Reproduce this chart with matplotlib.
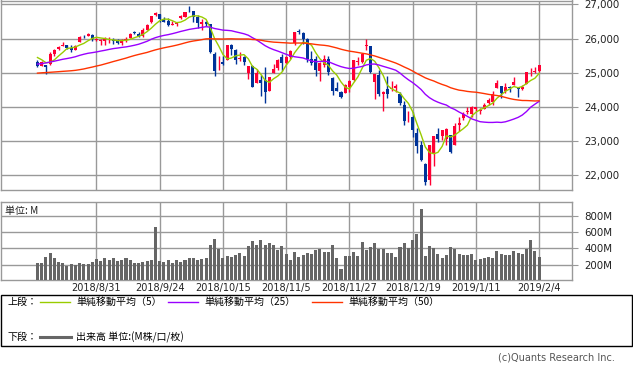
import numpy as np
import pandas as pd
import matplotlib
matplotlib.use('Agg')
import matplotlib.pyplot as plt
from matplotlib.lines import Line2D
from matplotlib.patches import Rectangle

plt.rcParams['font.family'] = ['DejaVu Sans', 'Noto Sans CJK JP']

# 日足データ (2018/8/13 - 2019/2/4)
dates = ['2018/8/13', '2018/8/14', '2018/8/15', '2018/8/16', '2018/8/17', '2018/8/20', '2018/8/21', '2018/8/22', '2018/8/23', '2018/8/24',
         '2018/8/27', '2018/8/28', '2018/8/29', '2018/8/30', '2018/8/31', '2018/9/4', '2018/9/5', '2018/9/6', '2018/9/7', '2018/9/10',
         '2018/9/11', '2018/9/12', '2018/9/13', '2018/9/14', '2018/9/17', '2018/9/18', '2018/9/19', '2018/9/20', '2018/9/21', '2018/9/24',
         '2018/9/25', '2018/9/26', '2018/9/27', '2018/9/28', '2018/10/1', '2018/10/2', '2018/10/3', '2018/10/4', '2018/10/5', '2018/10/8',
         '2018/10/9', '2018/10/10', '2018/10/11', '2018/10/12', '2018/10/15', '2018/10/16', '2018/10/17', '2018/10/18', '2018/10/19', '2018/10/22',
         '2018/10/23', '2018/10/24', '2018/10/25', '2018/10/26', '2018/10/29', '2018/10/30', '2018/10/31', '2018/11/1', '2018/11/2', '2018/11/5',
         '2018/11/6', '2018/11/7', '2018/11/8', '2018/11/9', '2018/11/12', '2018/11/13', '2018/11/14', '2018/11/15', '2018/11/16', '2018/11/19',
         '2018/11/20', '2018/11/21', '2018/11/23', '2018/11/26', '2018/11/27', '2018/11/28', '2018/11/29', '2018/11/30', '2018/12/3', '2018/12/4',
         '2018/12/6', '2018/12/7', '2018/12/10', '2018/12/11', '2018/12/12', '2018/12/13', '2018/12/14', '2018/12/17', '2018/12/18', '2018/12/19',
         '2018/12/20', '2018/12/21', '2018/12/24', '2018/12/26', '2018/12/27', '2018/12/28', '2018/12/31', '2019/1/2', '2019/1/3', '2019/1/4',
         '2019/1/7', '2019/1/8', '2019/1/9', '2019/1/10', '2019/1/11', '2019/1/14', '2019/1/15', '2019/1/16', '2019/1/17', '2019/1/18',
         '2019/1/22', '2019/1/23', '2019/1/24', '2019/1/25', '2019/1/28', '2019/1/29', '2019/1/30', '2019/1/31', '2019/2/1', '2019/2/4']

opens = [25300, 25200, 25220, 25260, 25550, 25690, 25770, 25800, 25720, 25680,
         25900, 26090, 26070, 26100, 25950, 25916, 25930, 25975, 25960, 25950,
         25860, 25960, 26030, 26180, 26140, 26070, 26260, 26480, 26680, 26720,
         26570, 26510, 26410, 26420, 26600, 26640, 26840, 26800, 26630, 26420,
         26490, 26420, 25550, 25330, 25300, 25360, 25800, 25680, 25390, 25460,
         24980, 25190, 24700, 24800, 24800, 24450, 25000, 25130, 25460, 25280,
         25450, 25870, 26210, 26150, 25990, 25410, 25390, 25050, 25240, 25410,
         24850, 24560, 24440, 24390, 24590, 24800, 25300, 25320, 25780, 25780,
         24740, 24920, 24370, 24520, 24520, 24560, 24370, 24050, 23660, 23700,
         23220, 22870, 22320, 21860, 22630, 23210, 23150, 23060, 23180, 22890,
         23470, 23680, 23860, 23790, 23940, 23880, 23930, 24100, 24140, 24540,
         24600, 24450, 24580, 24630, 24580, 24510, 24680, 24980, 25030, 25060]

highs = [25378, 25337, 25230, 25600, 25700, 25790, 25890, 25820, 25800, 25810,
         26070, 26110, 26168, 26125, 26030, 25980, 26050, 26050, 26030, 25980,
         25990, 26040, 26170, 26220, 26200, 26300, 26430, 26670, 26770, 26730,
         26620, 26600, 26520, 26470, 26700, 26790, 26951, 26800, 26690, 26560,
         26530, 26430, 25600, 25490, 25480, 25810, 25830, 25700, 25600, 25480,
         25200, 25240, 25100, 24920, 25170, 24880, 25250, 25390, 25540, 25490,
         25660, 26190, 26280, 26180, 26010, 25650, 25500, 25320, 25530, 25480,
         24860, 24720, 24460, 24660, 24800, 25370, 25460, 25560, 25980, 25780,
         24960, 25090, 24460, 24890, 24760, 24670, 24440, 24180, 23880, 23860,
         23380, 23000, 22340, 22880, 23140, 23380, 23330, 23390, 23180, 23520,
         23690, 23860, 24000, 24010, 24000, 23970, 24100, 24260, 24460, 24780,
         24620, 24700, 24600, 24860, 24580, 24640, 25030, 25140, 25160, 25240]

lows = [25170, 25190, 24965, 25230, 25490, 25670, 25770, 25690, 25610, 25680,
        25900, 26020, 26062, 25940, 25915, 25820, 25800, 25880, 25850, 25830,
        25800, 25900, 26010, 26120, 26040, 26060, 26250, 26470, 26670, 26500,
        26480, 26380, 26410, 26370, 26560, 26640, 26770, 26490, 26300, 26240,
        26370, 25590, 24900, 25090, 25240, 25360, 25530, 25260, 25350, 25240,
        24810, 24580, 24690, 24330, 24120, 24450, 24990, 25080, 25050, 25260,
        25400, 25800, 26130, 25850, 25300, 25240, 24910, 24770, 25160, 24940,
        24340, 24450, 24250, 24390, 24430, 24750, 25220, 25270, 25670, 24980,
        24240, 24320, 23880, 24250, 24460, 24420, 24060, 23460, 23540, 23110,
        22640, 22400, 21712, 21712, 22270, 22980, 23030, 22880, 22640, 22890,
        23300, 23600, 23790, 23700, 23870, 23800, 23930, 24060, 24060, 24540,
        24250, 24390, 24420, 24630, 24300, 24490, 24680, 24900, 24980, 25030]

closes = [25188, 25300, 25162, 25559, 25669, 25759, 25822, 25734, 25657, 25790,
          26050, 26064, 26125, 25987, 25965, 25952, 25975, 25996, 25917, 25857,
          25971, 25999, 26146, 26155, 26062, 26247, 26406, 26657, 26744, 26562,
          26492, 26385, 26440, 26458, 26651, 26774, 26828, 26627, 26447, 26487,
          26431, 25599, 25053, 25340, 25251, 25798, 25707, 25379, 25444, 25317,
          25191, 24583, 24985, 24688, 24443, 24875, 25116, 25381, 25271, 25462,
          25635, 26180, 26191, 25989, 25387, 25286, 25081, 25289, 25413, 25017,
          24466, 24465, 24286, 24640, 24749, 25366, 25339, 25538, 25826, 25027,
          24948, 24389, 24423, 24370, 24527, 24597, 24101, 23593, 23676, 23324,
          22860, 22445, 21792, 22878, 23139, 23062, 23327, 23346, 22686, 23433,
          23531, 23787, 23879, 24002, 23996, 23910, 24066, 24207, 24370, 24706,
          24404, 24576, 24553, 24737, 24528, 24580, 25015, 25000, 25064, 25239]

# 移動平均計算用の過去終値 (2018/6/4 - 2018/8/10)
pre_closes = [24814, 24800, 25146, 25241, 25317, 25322, 25321, 25201, 25175, 25090,
              24987, 24700, 24658, 24462, 24581, 24253, 24283, 24118, 24216, 24271,
              24307, 24175, 24357, 24456, 24777, 24920, 24700, 24925, 25019, 25064,
              25120, 25199, 25065, 25058, 25044, 25242, 25414, 25527, 25451, 25307,
              25415, 25334, 25326, 25463, 25502, 25629, 25584, 25509, 25313]

# 出来高 (M)
volume = [218, 218, 291, 339, 279, 238, 226, 190, 206, 194,
          218, 206, 206, 230, 267, 242, 279, 255, 279, 242,
          255, 279, 255, 218, 218, 230, 242, 255, 654, 242,
          230, 255, 218, 255, 230, 255, 279, 279, 255, 267,
          279, 436, 509, 388, 279, 303, 291, 315, 339, 303,
          424, 485, 436, 497, 436, 461, 436, 376, 424, 329,
          255, 351, 291, 315, 339, 327, 376, 388, 351, 351,
          436, 279, 145, 303, 303, 351, 303, 473, 376, 412,
          461, 388, 388, 339, 339, 291, 412, 461, 400, 497,
          570, 885, 303, 424, 400, 327, 279, 315, 412, 388,
          327, 315, 315, 327, 255, 267, 279, 291, 279, 364,
          327, 315, 315, 364, 339, 327, 388, 497, 364, 291]

label_dates = ['2018/8/31', '2018/9/24', '2018/10/15', '2018/11/5', '2018/11/27',
               '2018/12/19', '2019/1/11', '2019/2/4']
price_ticks = [22000, 23000, 24000, 25000, 26000, 27000]
vol_ticks = [200, 400, 600, 800]

ma_periods = [5, 25, 50]
ma_colors = ['#99cc00', '#9900ff', '#ff3300']

W, H = 633, 372
def fx(x):
    return x / W
def fy(y):
    return 1 - y / H

up_col = '#ff0033'
down_col = '#003399'
grid_col = '#999999'

x = np.arange(len(dates))
o = np.array(opens); h = np.array(highs); l = np.array(lows); c = np.array(closes)
all_close = pd.Series(pre_closes + closes)
n_pre = len(pre_closes)
tick_pos = [dates.index(d) for d in label_dates]

fig = plt.figure(figsize=(W / 100, H / 100), dpi=100)

# ---- 上段: ローソク足 ----
ax = fig.add_axes([fx(0.5), fy(190), fx(571.5), 189.5 / H])
up = c >= o
cols = np.where(up, up_col, down_col)
ax.vlines(x, l, h, colors=cols, lw=1.0, zorder=2)
body_lo = np.minimum(o, c)
body_h = np.maximum(np.abs(c - o), 25)
ax.bar(x, body_h, bottom=body_lo, width=0.72, color=cols, lw=0, zorder=3)

for p, col in zip(ma_periods, ma_colors):
    ma = all_close.rolling(p).mean().values[n_pre:]
    ax.plot(x, ma, color=col, lw=1.0, zorder=4)

ax.set_xlim(-8.77, 126.8)
ax.set_ylim(21560, 27117)
ax.set_xticks(tick_pos)
ax.set_yticks(price_ticks)
ax.set_yticklabels(['{:,}'.format(v) for v in price_ticks])
ax.yaxis.tick_right()
ax.tick_params(axis='y', length=4, width=0.8, color=grid_col, labelcolor='#222222',
               labelsize=7.4, pad=5)
ax.tick_params(axis='x', length=0, labelbottom=False)
ax.grid(True, color=grid_col, lw=1.0)
ax.set_axisbelow(True)
for s in ax.spines.values():
    s.set_color(grid_col)
    s.set_linewidth(1.0)

# ---- 下段: 出来高 ----
axv = fig.add_axes([fx(0.5), fy(280), fx(571.5), 78.3 / H])
axv.bar(x, volume, width=0.72, color='#666666', lw=0, zorder=3)
axv.set_xlim(-8.77, 126.8)
axv.set_ylim(15, 968)
axv.set_yticks(vol_ticks)
axv.set_yticklabels(['{}M'.format(v) for v in vol_ticks])
axv.yaxis.tick_right()
axv.tick_params(axis='y', length=4, width=0.8, color=grid_col, labelcolor='#222222',
                labelsize=7.4, pad=5)
axv.set_xticks(tick_pos)
axv.set_xticklabels(label_dates)
axv.tick_params(axis='x', length=0, labelsize=7, pad=2.5, labelcolor='#222222')
axv.grid(True, color=grid_col, lw=1.0)
axv.set_axisbelow(True)
for s in axv.spines.values():
    s.set_color(grid_col)
    s.set_linewidth(1.0)
axv.text(0.007, 0.88, '単位: M', transform=axv.transAxes, fontsize=7.2,
         family=['Noto Sans CJK JP', 'DejaVu Sans'], va='center', ha='left', color='#222222')

# ---- 凡例 ----
fig.add_artist(Rectangle((fx(0.5), fy(346)), fx(631.5), 51 / H, transform=fig.transFigure,
                         fill=False, edgecolor='black', lw=1.0))
cjk = ['Noto Sans CJK JP', 'DejaVu Sans']
row1, row2 = 302, 337
fig.text(fx(8), fy(row1), '上段：', fontsize=7.2, family=cjk, va='center')
leg_x = [40, 168, 312]
for lx, p, col in zip(leg_x, ma_periods, ma_colors):
    fig.add_artist(Line2D([fx(lx), fx(lx + 30)], [fy(row1), fy(row1)], color=col, lw=1.0))
    fig.text(fx(lx + 36), fy(row1), '単純移動平均（{}）'.format(p), fontsize=7.2, family=cjk, va='center')
fig.text(fx(8), fy(row2), '下段：', fontsize=7.2, family=cjk, va='center')
fig.add_artist(Line2D([fx(40), fx(71)], [fy(row2), fy(row2)], color='#666666', lw=2.2))
fig.text(fx(76), fy(row2), '出来高 単位:(M株/口/枚)', fontsize=7.2, family=cjk, va='center')

fig.text(fx(615), fy(357), '(c)Quants Research Inc.', fontsize=7, color='#555555',
         ha='right', va='center')

fig.savefig('out.png', dpi=100)
